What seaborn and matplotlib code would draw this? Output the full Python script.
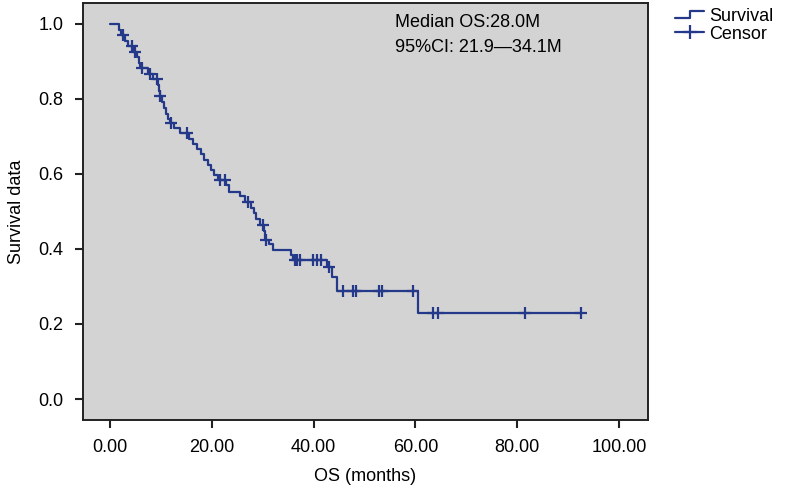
import numpy as np
import pandas as pd
import matplotlib
matplotlib.use("Agg")
import matplotlib.pyplot as plt
from matplotlib.lines import Line2D
from matplotlib.legend_handler import HandlerBase
import seaborn as sns

# Kaplan-Meier step curve (time in months, survival probability)
step_times = [0.0, 1.8, 2.2, 3.0, 3.6, 4.6, 5.3, 5.6, 5.9, 7.5, 8.5, 9.4, 9.6, 9.8,
              10.2, 10.6, 11.0, 11.4, 11.7, 12.6, 13.8, 15.5, 16.3, 17.0, 17.8, 18.5,
              19.2, 19.8, 20.5, 21.2, 22.8, 23.4, 25.5, 26.5, 27.8, 28.3, 28.7,
              29.4, 30.2, 30.5, 31.2, 32.0, 35.5, 35.9, 42.6, 43.7, 44.6, 60.6, 92.5]
step_surv = [1.000, 0.985, 0.970, 0.955, 0.940, 0.926, 0.911, 0.896, 0.882, 0.867,
             0.852, 0.837, 0.822, 0.807, 0.792, 0.776, 0.761, 0.746, 0.735, 0.722,
             0.708, 0.694, 0.680, 0.666, 0.652, 0.638, 0.624, 0.610, 0.596, 0.584,
             0.570, 0.552, 0.541, 0.526, 0.510, 0.495, 0.480, 0.465, 0.449, 0.424,
             0.412, 0.398, 0.384, 0.371, 0.352, 0.326, 0.288, 0.230, 0.230]

# Censored observations
censor_times = [2.6, 4.3, 4.9, 6.2, 7.9, 9.2, 9.9, 11.9, 15.1, 21.6, 22.6, 27.2,
                30.0, 30.6, 36.3, 36.7, 37.3, 39.9, 40.7, 41.5, 43.0, 45.7, 47.7,
                48.3, 52.9, 53.5, 59.5, 63.5, 64.4, 81.5, 92.5]
censor_surv = [0.970, 0.940, 0.926, 0.882, 0.867, 0.852, 0.807, 0.735, 0.708,
               0.584, 0.584, 0.526, 0.465, 0.424, 0.371, 0.371, 0.371, 0.371,
               0.371, 0.371, 0.352, 0.288, 0.288, 0.288, 0.288, 0.288, 0.288,
               0.230, 0.230, 0.230, 0.230]

x_ticks = [0, 20, 40, 60, 80, 100]
x_ticklabels = ["0.00", "20.00", "40.00", "60.00", "80.00", "100.00"]
y_ticks = [0.0, 0.2, 0.4, 0.6, 0.8, 1.0]
y_ticklabels = ["0.0", "0.2", "0.4", "0.6", "0.8", "1.0"]
legend_labels = ["Survival", "Censor"]
annot_lines = ["Median OS:28.0M", "95%CI: 21.9\u201434.1M"]

LINE_COLOR = "#25398a"
BG = "#d3d3d3"

sns.set_style("ticks")
plt.rcParams["font.family"] = ["Liberation Sans", "DejaVu Sans"]
plt.rcParams["text.color"] = "black"
plt.rcParams["axes.labelcolor"] = "black"
plt.rcParams["xtick.color"] = "black"
plt.rcParams["ytick.color"] = "black"

fig = plt.figure(figsize=(8.1, 4.95), dpi=100)
ax = fig.add_axes([0.1025, 0.1515, 0.6975, 0.8425])
ax.set_facecolor(BG)

curve = pd.DataFrame({"t": step_times, "s": step_surv})
cens = pd.DataFrame({"t": censor_times, "s": censor_surv})

sns.lineplot(data=curve, x="t", y="s", ax=ax, color=LINE_COLOR, lw=1.6,
             drawstyle="steps-post", estimator=None, sort=False, legend=False)
sns.scatterplot(data=cens, x="t", y="s", ax=ax, marker="+", s=70,
                color=LINE_COLOR, linewidth=1.6, legend=False, zorder=3)

ax.set_xlim(-5.3, 105.7)
ax.set_ylim(-0.056, 1.056)
ax.set_xticks(x_ticks)
ax.set_xticklabels(x_ticklabels)
ax.set_yticks(y_ticks)
ax.set_yticklabels(y_ticklabels)
ax.tick_params(axis="both", labelsize=13, length=6, width=1.5, color="#222222",
               labelcolor="black", direction="out", pad=8)
for sp in ax.spines.values():
    sp.set_visible(True)
    sp.set_color("#222222")
    sp.set_linewidth(1.4)

ax.set_xlabel("OS (months)", fontsize=13, labelpad=8, color="black")
ax.set_ylabel("Survival data", fontsize=13, labelpad=10, color="black")

ax.text(56.0, 1.005, annot_lines[0], fontsize=13, va="center", ha="left", color="black")
ax.text(56.0, 0.936, annot_lines[1], fontsize=13, va="center", ha="left", color="black")


class StepHandler(HandlerBase):
    def create_artists(self, legend, orig_handle, xdescent, ydescent, width,
                       height, fontsize, trans):
        x0, x1 = -xdescent, -xdescent + width
        ym = -ydescent + height * 0.5
        xs = [x0, x0 + width * 0.5, x0 + width * 0.5, x1]
        ys = [ym - height * 0.25, ym - height * 0.25, ym + height * 0.25, ym + height * 0.25]
        ln = Line2D(xs, ys, color=LINE_COLOR, lw=1.6, transform=trans)
        return [ln]


h_surv = Line2D([], [], color=LINE_COLOR, lw=1.6)
h_cens = Line2D([], [], color=LINE_COLOR, lw=1.6, marker="+", markersize=10,
                markeredgewidth=1.6)
leg = fig.legend([h_surv, h_cens], legend_labels,
                 handler_map={h_surv: StepHandler()},
                 loc="upper left", bbox_to_anchor=(0.818, 1.01), frameon=False,
                 fontsize=13, handlelength=1.6, handletextpad=0.3, labelspacing=0.05,
                 borderpad=0.2)
for t in leg.get_texts():
    t.set_color("black")

fig.savefig("out.png", dpi=100)
